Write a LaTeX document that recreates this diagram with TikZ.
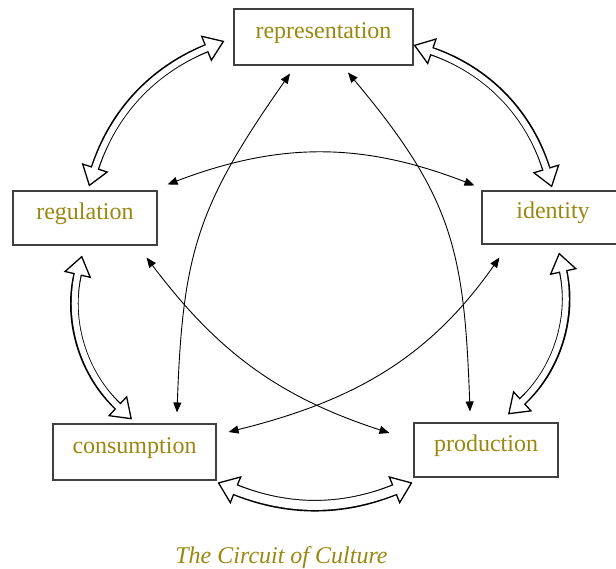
\documentclass[tikz,border=0pt]{standalone}
\usepackage{fontspec}
\setmainfont{Liberation Serif}
\usetikzlibrary{arrows.meta,calc}
\definecolor{txt}{RGB}{155,135,15}
\begin{document}
\begin{tikzpicture}[x=1pt,y=1pt,
  box/.style={draw=black!75, line width=1.1pt, inner sep=0pt, font=\fontsize{24}{28}\selectfont, text=txt, text height=14pt, text depth=11pt},
  link/.style={line width=0.9pt, {Triangle[length=10pt,width=8pt]}-{Triangle[length=10pt,width=8pt]}},
  htip/.style={Triangle[fill=white,length=20pt 0 0,width=28pt 0 0,line width=1.3pt 0 0]},
  hollow/.style={line width=8.6pt, {Triangle[fill=white,length=20pt 0 0,width=28pt 0 0,line width=1.3pt 0 0]}-{Triangle[fill=white,length=20pt 0 0,width=28pt 0 0,line width=1.3pt 0 0]}, postaction={draw=white,line width=6pt,-,shorten >=16pt,shorten <=16pt}},
  widehollow/.style={line width=11.6pt, {Triangle[fill=white,length=20pt 0 0,width=30pt 0 0,line width=1.3pt 0 0]}-{Triangle[fill=white,length=20pt 0 0,width=30pt 0 0,line width=1.3pt 0 0]}, postaction={draw=white,line width=9pt,-,shorten >=16pt,shorten <=16pt}}
]
\useasboundingbox (0,0) rectangle (616,-569);
\node[box, minimum width=179pt, minimum height=56pt] (rep) at (323.5,-37) {representation};
\node[box, minimum width=144pt, minimum height=54pt] (reg) at (85,-218) {regulation};
\node[box, minimum width=142pt, minimum height=53pt] (id) at (553,-217.5) {identity};
\node[box, minimum width=163pt, minimum height=56pt] (con) at (134.5,-452) {consumption};
\node[box, minimum width=144pt, minimum height=54pt] (pro) at (486,-450) {production};

% hollow double arrows (clockwise)
\draw[hollow] ($(reg.north)+(4,4)$) to[bend left=25] ($(rep.west)+(-9,-4)$);
\draw[hollow] ($(rep.east)+(0,-8)$) to[bend left=27] ($(id.north)+(-1,3)$);
\draw[hollow] ($(id.south)+(6,-8)$) to[bend left=30] ($(pro.north)+(22,8)$);
\draw[widehollow] ($(pro.south west)+(-1,-5)$) to[bend left=22] ($(con.south east)+(1,-2)$);
\draw[hollow] ($(con.north)+(-2.5,4)$) to[bend left=30] ($(reg.south)+(-3,-10)$);

% thin connectors
\draw[link] ($(con.north)+(42.5,11)$) to[out=88,in=235,looseness=1.15] ($(rep.south)+(-33.5,-8)$);
\draw[link] ($(pro.north)+(-16,11)$) to[out=92,in=-50,looseness=1.15] ($(rep.south)+(24.5,-7)$);
\draw[link] ($(reg.north east)+(10,6)$) to[bend left=21] ($(id.north west)+(-7,5)$);
\draw[link] ($(reg.south east)+(-11,-12)$) to[out=-53,in=162] ($(pro.west)+(-24,17)$);
\draw[link] ($(con.east)+(12,20)$) to[out=14,in=235] ($(id.south west)+(18,-13)$);

\node[font=\fontsize{24}{28}\selectfont\itshape, text=txt, anchor=base] (cap) at (281.5,-563) {The Circuit of Culture};
\end{tikzpicture}
\end{document}
